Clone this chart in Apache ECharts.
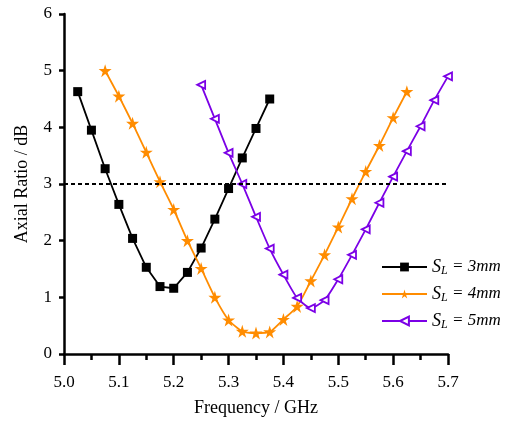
<!DOCTYPE html>
<html><head><meta charset="utf-8">
<script src="https://cdn.jsdelivr.net/npm/echarts@6/dist/echarts.min.js"></script>
<style>html,body{margin:0;padding:0;background:#fff}#c{width:511px;height:422px}</style>
</head><body><div id="c"></div>
<script>
const freq3 = [5.025,5.05,5.075,5.1,5.125,5.15,5.175,5.2,5.225,5.25,5.275,5.3,5.325,5.35,5.375];
const ar3 = [4.63,3.95,3.27,2.64,2.04,1.53,1.19,1.16,1.44,1.87,2.38,2.92,3.46,3.98,4.5];
const freq4 = [5.075,5.1,5.125,5.15,5.175,5.2,5.225,5.25,5.275,5.3,5.325,5.35,5.375,5.4,5.425,5.45,5.475,5.5,5.525,5.55,5.575,5.6,5.625];
const ar4 = [5.0,4.55,4.07,3.56,3.04,2.55,2.0,1.51,1.0,0.6,0.4,0.37,0.39,0.61,0.84,1.29,1.75,2.24,2.74,3.22,3.68,4.17,4.63];
const freq5 = [5.25,5.275,5.3,5.325,5.35,5.375,5.4,5.425,5.45,5.475,5.5,5.525,5.55,5.575,5.6,5.625,5.65,5.675,5.7];
const ar5 = [4.75,4.15,3.55,3.0,2.42,1.86,1.4,0.99,0.81,0.95,1.32,1.75,2.2,2.67,3.13,3.58,4.02,4.48,4.9];
const names = ['S_L = 3mm','S_L = 4mm','S_L = 5mm'];
const thresholdY = 3;

const serif = '"Liberation Serif","Times New Roman",serif';
const pair = (xs, ys) => xs.map((x, i) => [x, ys[i]]);
const chart = echarts.init(document.getElementById('c'));
chart.setOption({
  animation: false,
  grid: {left: 64, right: 63, top: 14, bottom: 66},
  legend: {
    left: 376, top: 253, orient: 'vertical',
    itemWidth: 45, itemHeight: 11, itemGap: 8,
    data: names,
    formatter: n => '{s|S}{sub|L}{t|' + n.slice(3) + '}',
    textStyle: {
      rich: {
        s: {fontFamily: serif, fontStyle: 'italic', fontSize: 18, color: '#000'},
        sub: {fontFamily: serif, fontStyle: 'italic', fontSize: 12, color: '#000', verticalAlign: 'bottom', padding: [8,0,0,0]},
        t: {fontFamily: serif, fontStyle: 'italic', fontSize: 17, color: '#000'}
      }
    }
  },
  xAxis: {
    type: 'value', min: 5.0, max: 5.7, interval: 0.1,
    name: 'Frequency / GHz', nameLocation: 'middle', nameGap: 45,
    nameTextStyle: {fontFamily: serif, fontSize: 18, color: '#000'},
    axisLine: {lineStyle: {color: '#000', width: 2.5}},
    axisTick: {lineStyle: {color: '#000', width: 2.5}, length: 11},
    minorTick: {show: true, splitNumber: 2, length: 6, lineStyle: {color: '#000', width: 2.5}},
    splitLine: {show: false},
    axisLabel: {fontFamily: serif, fontSize: 17, color: '#000', margin: 20, formatter: v => v.toFixed(1)}
  },
  yAxis: {
    type: 'value', min: 0, max: 6, interval: 1,
    name: 'Axial Ratio / dB', nameLocation: 'middle', nameGap: 33,
    nameTextStyle: {fontFamily: serif, fontSize: 18, color: '#000'},
    axisLine: {show: true, lineStyle: {color: '#000', width: 2.5}},
    axisTick: {show: true, lineStyle: {color: '#000', width: 2.5}, length: 5},
    splitLine: {show: false},
    axisLabel: {fontFamily: serif, fontSize: 17, color: '#000', margin: 12}
  },
  series: [
    {
      name: names[0], type: 'line', data: pair(freq3, ar3),
      symbol: 'rect', symbolSize: 9, color: '#000',
      lineStyle: {width: 1.8, color: '#000'}, itemStyle: {color: '#000'},
      z: 3,
      markLine: {
        silent: true, symbol: ['none','none'], label: {show: false},
        lineStyle: {color: '#000', type: [4,3], width: 1.8},
        data: [{yAxis: thresholdY}]
      }
    },
    {
      name: names[1], type: 'line', data: pair(freq4, ar4), smooth: 0.2,
      symbol: 'path://M50,0 L61,35 L98,35 L68,57 L79,92 L50,70 L21,92 L32,57 L2,35 L39,35 Z',
      symbolSize: 13, color: '#ff8c00',
      lineStyle: {width: 1.8, color: '#ff8c00'}, itemStyle: {color: '#ff8c00'}
    },
    {
      name: names[2], type: 'line', data: pair(freq5, ar5), smooth: 0.2,
      symbol: 'triangle', symbolRotate: 90, symbolSize: 8, color: '#7b00e6',
      lineStyle: {width: 1.8, color: '#7b00e6'},
      itemStyle: {color: '#fff', borderColor: '#7b00e6', borderWidth: 1.8}
    }
  ]
});
</script></body></html>
